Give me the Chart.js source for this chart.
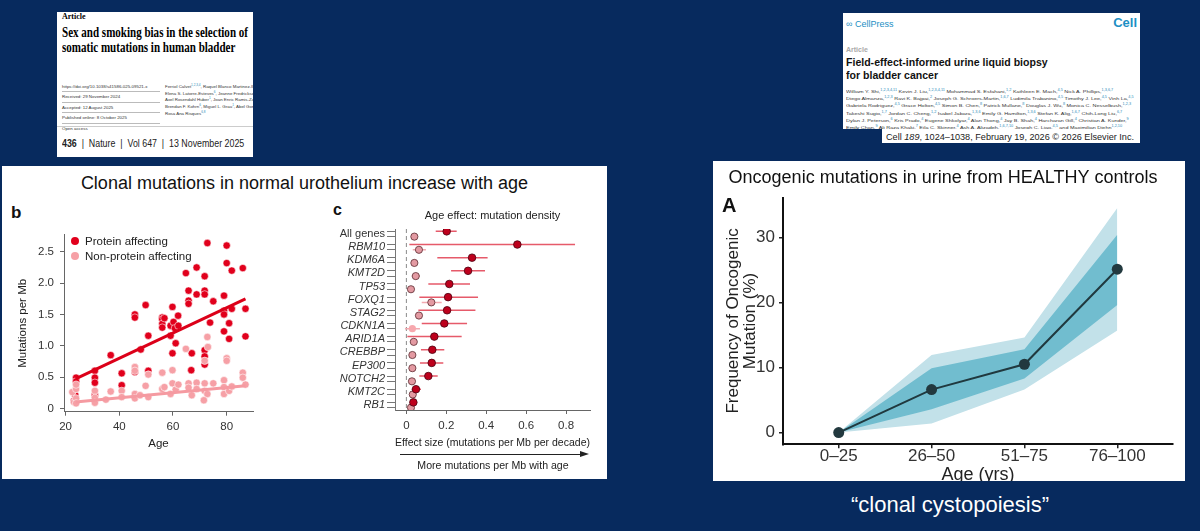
<!DOCTYPE html>
<html>
<head>
<meta charset="utf-8">
<script src="https://cdn.jsdelivr.net/npm/chart.js@4.4.0/dist/chart.umd.min.js"></script>
<style>
  body { margin: 0; width: 1200px; height: 531px; background: #072a5e; position: relative; overflow: hidden;
         font-family: 'Liberation Sans', Arial, sans-serif; }
  .abs { position: absolute; white-space: nowrap; }
  .box { position: absolute; background: #fff; overflow: hidden; }
  .tiny { position: absolute; white-space: nowrap; color: #333; }
  .tiny sup { color: #2a8bb8; font-size: 70%; }
  canvas { position: absolute; }
  .dot { position: absolute; width: 8px; height: 8px; border-radius: 50%; }
</style>
</head>
<body>

<!-- Nature article header -->
<div class="box" style="left:57px;top:12px;width:196px;height:145px;">
  <div class="abs" style="left:5px;top:0px;font:bold 8px 'Liberation Serif',serif;">Article</div>
  <div class="abs fit" data-w="186" style="left:5px;top:13px;font:bold 15px/15px 'Liberation Serif',serif;">Sex and smoking bias in the selection of<br>somatic mutations in human bladder</div>
  <div class="tiny" style="left:5px;top:70px;width:98px;font-size:4.4px;line-height:9.4px;">
    <div style="border-bottom:0.5px solid #bbb">https://doi.org/10.1038/s41586-025-09521-x</div>
    <div style="border-bottom:0.5px solid #bbb">Received: 29 November 2024</div>
    <div style="border-bottom:0.5px solid #bbb">Accepted: 12 August 2025</div>
    <div style="border-bottom:0.5px solid #bbb">Published online: 8 October 2025</div>
    <div>Open access</div>
  </div>
  <div class="tiny" style="left:108px;top:71px;font-size:4.4px;line-height:5.2px;">
    Ferriol Calvet<sup>1,2,3,4</sup>, Raquel Blanco Martinez-Illescas<sup>1,2,3,4</sup>, Ferran Muiños<sup>1,2</sup>, Maria Tretiakova<sup>5</sup>,<br>
    Elena S. Latorre-Esteves<sup>6</sup>, Jeanne Fredrickson<sup>6</sup>, Maria Andrianova<sup>1</sup>, Stefano Pellegrini<sup>1,2</sup>,<br>
    Axel Rosendahl Huber<sup>1</sup>, Joan Enric Ramis-Zaldivar<sup>1</sup>, Shuyi Charlotte An<sup>6</sup>, Elena Thieme<sup>6</sup>,<br>
    Brendan F. Kohrn<sup>6</sup>, Miguel L. Grau<sup>1</sup>, Abel Gonzalez-Perez<sup>1,2,3</sup>, Nuria Lopez-Bigas<sup>1,2,3,7</sup> &amp;<br>
    Rosa Ana Risques<sup>6,8</sup>
  </div>
  <div class="abs" style="left:0;top:114px;width:196px;border-top:1px solid #ccc;"></div>
  <div class="abs fit" data-w="182" style="left:5px;top:126px;font-size:10px;color:#222;"><b>436</b> &nbsp;|&nbsp; Nature &nbsp;|&nbsp; Vol 647 &nbsp;|&nbsp; 13 November 2025</div>
</div>

<!-- Cell article header -->
<div class="box" style="left:843px;top:13px;width:297px;height:116px;">
  <div class="abs" style="left:3px;top:6px;font:9px 'Liberation Sans',sans-serif;color:#1d8fc4;">&#8734; CellPress</div>
  <div class="abs" style="right:3px;top:2px;font:bold 13px 'Liberation Sans',sans-serif;color:#1d8fc4;">Cell</div>
  <div class="abs" style="left:3px;top:33px;font:bold 7px 'Liberation Sans',sans-serif;color:#aaa;">Article</div>
  <div class="abs fit" data-w="202" style="left:3px;top:43px;font:bold 10.5px/12.5px 'Liberation Sans',sans-serif;color:#111;">Field-effect-informed urine liquid biopsy<br>for bladder cancer</div>
  <div class="tiny fit" data-w="288" style="left:3px;top:75px;font-size:4.3px;line-height:4.75px;">
    William Y. Shi,<sup>1,2,3,4,11</sup> Kevin J. Liu,<sup>1,2,3,4,11</sup> Mohammad S. Esfahani,<sup>1,2</sup> Kathleen E. Mach,<sup>4,5</sup> Nick A. Phillips,<sup>1,3,6,7</sup><br>
    Diego Almanza,<sup>1,2,3</sup> Ravi K. Bajpai,<sup>2</sup> Joseph G. Schroers-Martin,<sup>1,6,7</sup> Ludimila Trabanino,<sup>4,5</sup> Timothy J. Lee,<sup>4,5</sup> Vinh La,<sup>4,5</sup><br>
    Gabriela Rodriguez,<sup>4,5</sup> Grace Holton,<sup>4,5</sup> Simon B. Chen,<sup>8</sup> Patrick Mullane,<sup>8</sup> Douglas J. Wu,<sup>8</sup> Monica C. Nesselbush,<sup>1,2,3</sup><br>
    Takeshi Sugio,<sup>1,7</sup> Jordan C. Cheng,<sup>1,2</sup> Isabel Jabara,<sup>1,3,6</sup> Emily G. Hamilton,<sup>1,3,6</sup> Stefan K. Alig,<sup>1,6,7</sup> Chih-Long Liu,<sup>6,7</sup><br>
    Dylan J. Peterson,<sup>6</sup> Kris Prado,<sup>4</sup> Eugene Shkolyar,<sup>4</sup> Alan Thong,<sup>4</sup> Jay B. Shah,<sup>4</sup> Harcharan Gill,<sup>4</sup> Christian A. Kunder,<sup>9</sup><br>
    Emily Chan,<sup>9</sup> Ali Raza Khaki,<sup>7</sup> Eila C. Skinner,<sup>4</sup> Ash A. Alizadeh,<sup>1,6,7,10</sup> Joseph C. Liao,<sup>4,5</sup> and Maximilian Diehn<sup>1,2,10</sup><br>
    <sup>1</sup>Stanford Cancer Institute, Stanford University, Stanford, CA, USA
  </div>
</div>
<div class="box" style="left:882px;top:129px;width:258px;height:14px;">
  <div class="abs fit" data-w="248" style="left:4px;top:2px;font-size:9.4px;color:#222;">Cell <i>189</i>, 1024–1038, February 19, 2026 © 2026 Elsevier Inc.</div>
  <div class="abs" style="left:4px;top:12px;font-size:9.4px;color:#2a6fb0;">All rights are reserved, including those for text and data mining, AI training</div>
</div>

<!-- Left panel -->
<div class="box" style="left:2px;top:166px;width:605px;height:313px;"></div>
<div class="abs" style="left:2px;top:172px;width:605px;text-align:center;font-size:18px;line-height:22px;color:#111;">Clonal mutations in normal urothelium increase with age</div>
<div class="abs" style="left:11px;top:203px;font:bold 17px 'Liberation Sans',sans-serif;color:#111;">b</div>
<div class="abs" style="left:333px;top:201px;font:bold 16px 'Liberation Sans',sans-serif;color:#111;">c</div>
<canvas id="scatter" width="263" height="232" style="left:2px;top:222px;"></canvas>
<div class="dot" style="left:71px;top:237px;background:#e1001c;"></div>
<div class="abs" style="left:85px;top:234px;font-size:11.5px;line-height:14px;color:#222;">Protein affecting</div>
<div class="dot" style="left:71px;top:252px;background:#f6a0a6;"></div>
<div class="abs" style="left:85px;top:249px;font-size:11.5px;line-height:14px;color:#222;">Non-protein affecting</div>
<canvas id="forest" width="275" height="250" style="left:330px;top:203px;"></canvas>
<div class="abs" style="left:400px;top:454px;width:181px;border-top:1px solid #222;"></div>
<div class="abs" style="left:580px;top:451px;width:0;height:0;border-top:3.5px solid transparent;border-bottom:3.5px solid transparent;border-left:9px solid #222;"></div>
<div class="abs" style="left:395px;top:459px;width:196px;text-align:center;font-size:10.6px;line-height:12px;color:#222;">More mutations per Mb with age</div>

<!-- Right panel -->
<div class="box" style="left:713px;top:161px;width:472px;height:320px;"></div>
<canvas id="urine" width="472" height="320" style="left:713px;top:161px;"></canvas>
<div class="abs" style="left:722px;top:194px;font:bold 20px 'Liberation Sans',sans-serif;color:#111;">A</div>

<div class="abs" style="left:700px;top:492px;width:500px;text-align:center;font-size:22px;color:#fff;">“clonal cystopoiesis”</div>

<script>
// panel b: mutation density per sample vs donor age
const proteinAge  = [23.9, 23.9, 23.6, 23.1, 30.9, 30.9, 30.9, 30.9, 36.8, 40.9, 40.9, 45.8, 45.8, 49.8, 50.8, 48.0,
                     50.8, 45.8, 56.0, 56.0, 56.0, 56.0, 56.8, 59.1, 59.1, 59.8, 60.2, 60.7, 61.0, 59.8, 61.9, 62.0,
                     64.8, 65.8, 65.8, 65.8, 67.0, 66.8, 68.8, 68.8, 71.8, 71.8, 71.8, 71.8, 71.8, 71.8, 72.8, 73.8,
                     75.0, 79.0, 79.0, 79.0, 79.0, 80.0, 80.0, 80.9, 80.9, 81.9, 81.9, 86.0, 87.0, 87.0];
const proteinRate = [0.49, 0.43, 0.21, 0.12, 0.60, 0.49, 0.41, 0.21, 0.85, 0.56, 0.37, 1.50, 1.45, 1.65, 1.16, 0.94,
                     0.60, 0.58, 1.45, 1.42, 1.35, 1.29, 1.44, 1.32, 1.16, 1.62, 1.38, 1.28, 1.04, 0.88, 1.48, 1.32,
                     2.16, 1.88, 1.72, 1.67, 0.88, 0.61, 2.25, 1.82, 2.11, 1.88, 1.82, 0.93, 0.83, 0.70, 2.64, 1.37,
                     1.71, 1.80, 1.56, 1.50, 1.23, 2.60, 2.32, 1.36, 1.11, 2.20, 1.59, 2.24, 1.59, 1.15];
const nonProteinAge  = [22.5, 23.1, 23.9, 23.9, 23.9, 23.9, 30.9, 30.9, 30.9, 35.0, 36.8, 40.9, 40.9, 45.8, 45.8, 45.8,
                        45.8, 47.7, 49.8, 50.8, 50.8, 56.0, 56.0, 56.8, 59.1, 59.8, 59.8, 61.0, 62.0, 64.8, 65.8, 65.8,
                        67.0, 68.8, 68.8, 71.8, 71.8, 71.8, 72.8, 73.0, 72.8, 75.0, 79.0, 79.0, 79.0, 80.0, 80.0, 80.9,
                        81.9, 86.0, 86.0, 87.0, 71.5];
const nonProteinRate = [0.26, 0.10, 0.16, 0.31, 0.38, 0.08, 0.28, 0.17, 0.09, 0.14, 0.27, 0.28, 0.18, 0.66, 0.60, 0.23,
                        0.16, 0.21, 0.36, 0.54, 0.18, 0.57, 0.31, 0.34, 0.23, 0.61, 0.40, 0.30, 0.38, 0.95, 0.40, 0.33,
                        0.21, 0.41, 0.31, 0.76, 0.40, 0.28, 1.14, 0.98, 0.23, 0.40, 0.45, 0.34, 0.23, 0.80, 0.76, 0.28,
                        0.35, 0.57, 0.49, 0.38, 0.13];
const fitAge = [23.7, 87.0];
const proteinFit = [0.47, 1.75];
const nonProteinFit = [0.10, 0.36];
const scatterXTicks = [20, 40, 60, 80];
const scatterYTicks = [0, 0.5, 1.0, 1.5, 2.0, 2.5];

// panel c: age effect per gene
const genes = ['All genes', 'RBM10', 'KDM6A', 'KMT2D', 'TP53', 'FOXQ1', 'STAG2', 'CDKN1A', 'ARID1A', 'CREBBP', 'EP300', 'NOTCH2', 'KMT2C', 'RB1'];
const effProtein   = [0.202, 0.556, 0.329, 0.309, 0.215, 0.209, 0.204, 0.190, 0.140, 0.130, 0.127, 0.110, 0.048, 0.035];
const effProteinLo = [0.147, 0.015, 0.155, 0.224, 0.110, 0.065, 0.060, 0.077, 0.005, 0.073, 0.068, 0.065, 0.027, 0.018];
const effProteinHi = [0.252, 0.845, 0.407, 0.394, 0.319, 0.359, 0.346, 0.304, 0.277, 0.190, 0.185, 0.157, 0.073, 0.052];
const effNon   = [0.040, 0.063, 0.040, 0.047, 0.023, 0.125, 0.063, 0.030, 0.037, 0.030, 0.030, 0.028, 0.032, 0.023];
const effNonLo = [0.030, 0.032, 0.030, 0.027, 0.013, 0.077, 0.045, -0.007, 0.027, 0.020, 0.020, 0.018, 0.022, 0.013];
const effNonHi = [0.050, 0.098, 0.050, 0.068, 0.033, 0.177, 0.080, 0.068, 0.047, 0.040, 0.040, 0.038, 0.042, 0.033];
const forestXTicks = [0, 0.2, 0.4, 0.6, 0.8];

// panel A: oncogenic mutation frequency in urine
const ageGroups = ['0–25', '26–50', '51–75', '76–100'];
const freqOnco = [0, 6.6, 10.5, 25.1];
const innerLo = [0, 3.6, 8.3, 19.6];
const innerHi = [0, 9.9, 12.8, 30.4];
const outerLo = [0, 1.4, 6.6, 15.7];
const outerHi = [0, 11.9, 14.6, 34.5];
const urineYTicks = [0, 10, 20, 30];

// squeeze header texts to the widths they have in the slide
document.querySelectorAll('.fit').forEach(el => {
    const w = el.offsetWidth;
    el.style.transformOrigin = 'left top';
    el.style.transform = 'scaleX(' + (Number(el.dataset.w) / w) + ')';
});

Chart.defaults.font.family = "'Liberation Sans', Arial, sans-serif";
Chart.defaults.animation = false;

const pts = (xs, ys) => xs.map((x, i) => ({ x: x, y: ys[i] }));

// ---------- b ----------
new Chart(document.getElementById('scatter'), {
    type: 'scatter',
    data: {
        datasets: [
            { label: 'Protein affecting', data: pts(proteinAge, proteinRate), backgroundColor: '#e1001c',
              borderColor: 'rgba(255,255,255,0.8)', borderWidth: 0.7, pointRadius: 3.7, order: 4 },
            { label: 'Non-protein affecting', data: pts(nonProteinAge, nonProteinRate), backgroundColor: '#f6a0a6',
              borderColor: 'rgba(255,255,255,0.8)', borderWidth: 0.7, pointRadius: 3.7, order: 3 },
            { type: 'line', label: 'Protein fit', data: pts(fitAge, proteinFit), borderColor: '#dc0019', borderWidth: 3,
              pointRadius: 0, order: 2 },
            { type: 'line', label: 'Non-protein fit', data: pts(fitAge, nonProteinFit), borderColor: '#f59aa1', borderWidth: 3,
              pointRadius: 0, order: 1 }
        ]
    },
    options: {
        responsive: false,
        layout: { padding: { top: 8, right: 12 } },
        plugins: { tooltip: { enabled: false }, legend: { display: false } },
        scales: {
            x: {
                type: 'linear', min: 19.4, max: 89.8,
                afterBuildTicks: s => { s.ticks = scatterXTicks.map(v => ({ value: v })); },
                afterFit: s => { s.height = 42.3; },
                ticks: { color: '#333', font: { size: 11.5 }, padding: 4 },
                grid: { drawOnChartArea: false, tickLength: 4, color: '#666' },
                border: { color: '#666' },
                title: { display: true, text: 'Age', color: '#222', font: { size: 11.5 }, padding: { top: 0, bottom: 3 } }
            },
            y: {
                min: -0.053, max: 2.77,
                afterBuildTicks: s => { s.ticks = scatterYTicks.map(v => ({ value: v })); },
                afterFit: s => { s.width = 62; },
                ticks: { color: '#333', font: { size: 11.5 }, padding: 6,
                         callback: v => v === 0 ? '0' : v.toFixed(1) },
                grid: { drawOnChartArea: false, tickLength: 4, color: '#666' },
                border: { color: '#666' },
                title: { display: true, text: 'Mutations per Mb', color: '#222', font: { size: 11.5 }, padding: { top: 14, bottom: 0 } }
            }
        }
    }
});

// ---------- c ----------
const ciSegments = (lo, hi, off) => {
    const d = [];
    lo.forEach((l, i) => { d.push({ x: l, y: i + off }, { x: hi[i], y: i + off }, { x: NaN, y: NaN }); });
    return d;
};
const rowPts = (vals, off) => vals.map((v, i) => ({ x: v, y: i + off }));

new Chart(document.getElementById('forest'), {
    type: 'scatter',
    data: {
        datasets: [
            { label: 'protein', data: rowPts(effProtein, -0.2), backgroundColor: '#bd001c', borderColor: '#4a0010',
              borderWidth: 0.8, pointRadius: 3.8, order: 1 },
            { label: 'non-protein', data: rowPts(effNon, 0.2),
              backgroundColor: ctx => ctx.dataIndex === 7 ? '#f7a8ae' : '#e39aa2',
              borderColor: '#5a2a30', borderWidth: ctx => ctx.dataIndex === 7 ? 0 : 0.8, pointRadius: 3.6, order: 2 },
            { type: 'line', label: 'ci protein', data: ciSegments(effProteinLo, effProteinHi, -0.2), borderColor: '#e65a6a',
              borderWidth: 1.5, pointRadius: 0, order: 3 },
            { type: 'line', label: 'ci non', data: ciSegments(effNonLo, effNonHi, 0.2), borderColor: '#f2aab1',
              borderWidth: 1.5, pointRadius: 0, order: 4 },
            { type: 'line', label: 'zero', data: [{ x: 0, y: -0.38 }, { x: 0, y: 13.38 }], borderColor: '#8a8a8a',
              borderWidth: 1, borderDash: [4, 3], pointRadius: 0, order: 5 }
        ]
    },
    options: {
        responsive: false,
        layout: { padding: { right: 15 } },
        plugins: {
            tooltip: { enabled: false },
            legend: { display: false },
            title: { display: true, fullSize: false, text: 'Age effect: mutation density', color: '#222',
                     font: { size: 11, weight: 'normal' }, padding: { top: 6, bottom: 6.8 } }
        },
        scales: {
            x: {
                type: 'linear', min: -0.057, max: 0.92,
                afterBuildTicks: s => { s.ticks = forestXTicks.map(v => ({ value: v })); },
                afterFit: s => { s.height = 43; },
                ticks: { color: '#333', font: { size: 11.5 }, padding: 5, callback: v => v === 0 ? '0' : v.toFixed(1) },
                grid: { drawOnChartArea: false, tickLength: 4, color: '#666' },
                border: { color: '#666' },
                title: { display: true, text: 'Effect size (mutations per Mb per decade)', color: '#222',
                         font: { size: 11 }, padding: { top: 0, bottom: 3.4 } }
            },
            y: {
                type: 'linear', reverse: true, min: -0.38, max: 13.38,
                afterBuildTicks: s => {
                    s.ticks = [];
                    genes.forEach((g, i) => { s.ticks.push({ value: i - 0.2 }, { value: i + 0.2 }); });
                },
                afterFit: s => { s.width = 65; },
                ticks: {
                    autoSkip: false, labelOffset: 2.6, padding: 2, color: '#333',
                    font: ctx => ({ size: 11, style: ctx.index === 0 ? 'normal' : 'italic' }),
                    callback: (v, i) => i % 2 === 0 ? genes[i / 2] : ''
                },
                grid: { drawOnChartArea: false, tickLength: 8, color: '#777' },
                border: { color: '#777' }
            }
        }
    }
});

// ---------- A ----------
const idx = vals => vals.map((v, i) => ({ x: i, y: v }));

new Chart(document.getElementById('urine'), {
    type: 'line',
    data: {
        datasets: [
            { label: 'outer hi', data: idx(outerHi), fill: '+1', backgroundColor: '#c2e1e9', borderWidth: 0, pointRadius: 0, order: 3 },
            { label: 'outer lo', data: idx(outerLo), fill: false, borderWidth: 0, pointRadius: 0, order: 3 },
            { label: 'inner hi', data: idx(innerHi), fill: '+1', backgroundColor: '#71bdcf', borderWidth: 0, pointRadius: 0, order: 2 },
            { label: 'inner lo', data: idx(innerLo), fill: false, borderWidth: 0, pointRadius: 0, order: 2 },
            { label: 'frequency', data: idx(freqOnco), fill: false, borderColor: '#20393f', borderWidth: 2,
              pointRadius: 5.5, pointBackgroundColor: '#22393f', pointBorderWidth: 0, order: 1 }
        ]
    },
    options: {
        responsive: false,
        layout: { padding: { right: 12 } },
        plugins: {
            tooltip: { enabled: false },
            legend: { display: false },
            title: { display: true, text: 'Oncogenic mutations in urine from HEALTHY controls', color: '#111',
                     font: { size: 18, weight: 'normal' }, padding: { top: 6, bottom: 9 } }
        },
        scales: {
            x: {
                type: 'linear', min: -0.6, max: 3.6,
                afterBuildTicks: s => { s.ticks = ageGroups.map((g, i) => ({ value: i })); },
                afterFit: s => { s.height = 36.7; },
                ticks: { color: '#333', font: { size: 17 }, padding: -2, callback: v => ageGroups[v] },
                grid: { drawOnChartArea: false, tickLength: 4, color: '#222', lineWidth: 1.5 },
                border: { color: '#111', width: 2 },
                title: { display: true, text: 'Age (yrs)', color: '#222', font: { size: 18, lineHeight: 0.7 }, padding: 0 }
            },
            y: {
                min: -1.8, max: 36.1,
                afterBuildTicks: s => { s.ticks = urineYTicks.map(v => ({ value: v })); },
                afterFit: s => { s.width = 70; },
                ticks: { color: '#333', font: { size: 17 }, padding: 4 },
                grid: { drawOnChartArea: false, tickLength: 4, color: '#222', lineWidth: 1.5 },
                border: { color: '#111', width: 2 },
                title: { display: true, text: ['Frequency of Oncogenic', 'Mutation (%)'], color: '#222',
                         font: { size: 17, lineHeight: 1 }, padding: { top: 11.5, bottom: 0 } }
            }
        }
    }
});
</script>
</body>
</html>
